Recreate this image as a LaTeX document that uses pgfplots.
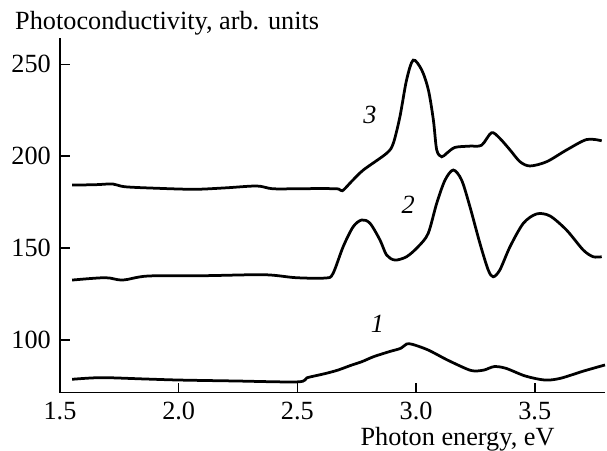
\documentclass[border=0pt]{standalone}
\usepackage{fontspec}
\setmainfont{Liberation Serif}
\usepackage{pgfplots}
\pgfplotsset{compat=1.18}

\pgfplotstableread{
E V
1.551 78.6
1.673 79.5
1.85 78.8
2.000 78.2
2.231 77.7
2.501 77.2
2.540 79.4
2.600 81.2
2.632 82.2
2.673 83.7
2.730 86.4
2.772 88.2
2.821 90.9
2.886 93.6
2.936 95.5
2.960 97.8
2.985 97.6
3.050 94.6
3.132 89.1
3.214 84.2
3.247 83.1
3.288 83.7
3.329 85.5
3.378 84.6
3.460 80.4
3.542 78.2
3.607 79.1
3.706 83.1
3.796 86.4
}\curveone

\pgfplotstableread{
E V
1.551 132.6
1.690 133.9
1.764 132.6
1.870 134.8
2.115 135.0
2.362 135.5
2.493 133.9
2.616 133.7
2.649 135.9
2.693 150.8
2.735 161.6
2.771 165.3
2.806 163.5
2.848 154.4
2.876 146.2
2.911 143.5
2.960 145.3
3.009 150.8
3.051 158.0
3.087 174.4
3.122 187.0
3.157 192.5
3.192 187.0
3.227 172.5
3.269 152.6
3.304 138.1
3.325 134.4
3.353 138.1
3.396 150.8
3.452 163.5
3.508 168.6
3.564 167.5
3.634 159.8
3.704 149.0
3.746 145.3
3.782 145.3
}\curvetwo

\pgfplotstableread{
E V
1.551 184.3
1.650 184.5
1.722 184.9
1.772 183.4
1.900 182.6
2.067 182.0
2.200 182.8
2.329 183.8
2.395 182.3
2.500 182.3
2.600 182.4
2.673 182.2
2.690 181.2
2.730 186.5
2.778 192.5
2.876 201.6
2.904 207.0
2.932 221.5
2.960 241.5
2.988 252.3
3.024 246.9
3.052 236.0
3.073 219.7
3.087 203.4
3.108 199.7
3.129 201.6
3.164 204.8
3.227 205.5
3.276 206.0
3.318 212.8
3.353 209.7
3.396 203.4
3.438 197.0
3.480 194.7
3.550 197.0
3.634 203.4
3.719 209.1
3.782 208.4
}\curvethree

\begin{document}
\fontsize{10.5}{12.6}\selectfont
\begin{tikzpicture}
\begin{axis}[
  at={(0,0)}, anchor=south west,
  scale only axis,
  width=218pt, height=142pt,
  xmin=1.5, xmax=3.796,
  ymin=71.3, ymax=264.5,
  axis lines=left,
  axis line style={-, line width=0.6pt},
  tick align=inside,
  major tick length=4pt,
  tick style={line width=0.6pt, black},
  xtick={1.5,2.0,2.5,3.0,3.5},
  ytick={100,150,200,250},
  xticklabel style={/pgf/number format/.cd, fixed, fixed zerofill, precision=1},
  /pgf/number format/assume math mode=true,
  ticklabel style={font=\fontsize{10.5}{12.6}\selectfont},
  clip=false,
]
\addplot[black, line width=1.1pt, smooth, tension=0.5] table[x=E, y=V] {\curveone};
\addplot[black, line width=1.1pt, smooth, tension=0.5] table[x=E, y=V] {\curvetwo};
\addplot[black, line width=1.1pt, smooth, tension=0.5] table[x=E, y=V] {\curvethree};
\node[font=\fontsize{10.5}{12.6}\itshape] at (axis cs:2.806,222.4) {3};
\node[font=\fontsize{10.5}{12.6}\itshape] at (axis cs:2.967,173.4) {2};
\node[font=\fontsize{10.5}{12.6}\itshape] at (axis cs:2.837,109) {1};
\end{axis}
\node[anchor=base west, inner sep=0pt] at (-18.1pt,145.1pt) {Photoconductivity, arb. units};
\node[anchor=base east, inner sep=0pt] at (198pt,-21.2pt) {Photon energy, eV};
\pgfresetboundingbox
\useasboundingbox (-24pt,-22.92pt) rectangle (218.8pt,157.08pt);
\end{tikzpicture}
\end{document}
